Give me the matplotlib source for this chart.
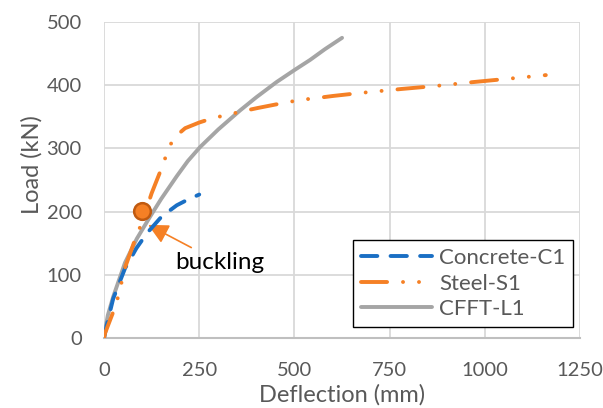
import matplotlib.pyplot as plt

# Concrete-C1
concrete_x = [0, 7, 24, 55, 85, 113, 151, 191, 220, 250]
concrete_y = [0, 20, 62, 110, 142, 166, 192, 210, 219, 227]

# Steel-S1
steel_x = [0, 3, 24, 37, 55, 81, 99, 125, 152, 165, 182, 213, 250, 286, 323, 365, 404, 480,
           520, 562, 601, 677, 780, 874, 970, 1074, 1160]
steel_y = [0, 8, 41, 65, 111, 155, 182, 229, 270, 292, 316, 332, 341, 348, 353, 359, 364, 373,
           377, 380, 383, 388, 394, 399, 405, 411, 416]

# CFFT-L1
cfft_x = [0, 3, 10, 24, 55, 86, 121, 150, 191, 220, 252, 300, 357, 400, 453, 500, 541, 580, 625]
cfft_y = [0, 13, 36, 65, 119, 157, 192, 220, 256, 280, 302, 330, 360, 381, 405, 424, 440, 457, 475]

buckling_x = [100]
buckling_y = [201]

plt.rcParams['font.family'] = ['Lato', 'DejaVu Sans']
font = 'Lato'

fig, ax = plt.subplots(figsize=(6.03, 4.08), dpi=100)
fig.subplots_adjust(left=0.1725, right=0.962, top=0.946, bottom=0.1716)

ax.plot(cfft_x, cfft_y, color='#A5A5A5', lw=2.8, label='CFFT-L1',
        solid_capstyle='round', solid_joinstyle='round', zorder=3)
ax.plot(concrete_x, concrete_y, color='#1A6FC4', lw=2.8, dashes=(4.2, 3.4),
        label='Concrete-C1', dash_capstyle='round', dash_joinstyle='round', zorder=4)
ax.plot(steel_x, steel_y, color='#F58025', lw=2.8, dashes=(6.7, 4.1, 0.01, 4.1, 0.01, 4.1),
        label='Steel-S1', dash_capstyle='round', dash_joinstyle='round', zorder=4)
ax.plot(buckling_x, buckling_y, 'o', ms=12, mfc='#F58025', mec='#C05A10', mew=1.8, zorder=5)

ax.annotate('buckling', xy=(116, 179), xytext=(188, 119), fontsize=17.5, family=font,
            color='black', va='center', ha='left',
            arrowprops=dict(arrowstyle='-|>,head_length=0.7,head_width=0.35', color='#F58025',
                            lw=1.2, shrinkA=3, shrinkB=0))

ax.set_xlim(0, 1250)
ax.set_ylim(0, 500)
ax.set_xticks(range(0, 1251, 250))
ax.set_yticks(range(0, 501, 100))
ax.grid(True, color='#D9D9D9', lw=1.3)
ax.set_axisbelow(True)
for s in ax.spines.values():
    s.set_visible(False)
ax.spines['bottom'].set_visible(True)
ax.spines['bottom'].set_color('#BFBFBF')
ax.spines['bottom'].set_linewidth(1.5)
ax.tick_params(length=0, labelsize=14.5, labelcolor='#595959')
ax.tick_params(axis='x', pad=17)
ax.tick_params(axis='y', pad=16)
for lbl in ax.get_xticklabels() + ax.get_yticklabels():
    lbl.set_family(font)

ax.set_xlabel('Deflection (mm)', fontsize=17, color='#595959', family=font, labelpad=4)
ax.set_ylabel('Load (kN)', fontsize=17, color='#595959', family=font, labelpad=3)
ax.yaxis.set_label_coords(-0.13, 0.55)

h, l = ax.get_legend_handles_labels()
order = [1, 2, 0]
leg = ax.legend([h[i] for i in order], [l[i] for i in order], loc='lower right',
                bbox_to_anchor=(0.985, 0.035), prop={'family': font, 'size': 16},
                fancybox=False, edgecolor='black', framealpha=1, handlelength=3.2,
                borderpad=0.35, labelspacing=0.25, handletextpad=0.3, borderaxespad=0)
leg.get_frame().set_linewidth(1.0)
for t in leg.get_texts():
    t.set_color('#595959')

fig.savefig('out.png', dpi=100)
